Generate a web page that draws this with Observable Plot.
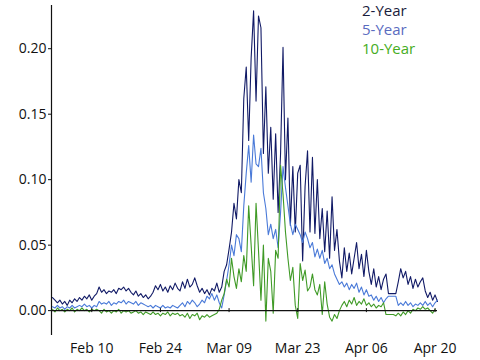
<!DOCTYPE html>
<html>
<head>
<meta charset="utf-8">
<script src="https://cdn.jsdelivr.net/npm/d3@7"></script>
<script src="https://cdn.jsdelivr.net/npm/@observablehq/plot@0.6"></script>
<style>
  html, body { margin: 0; padding: 0; background: #fff; }
  #wrap { position: relative; width: 480px; height: 360px; font-family: "Open Sans", sans-serif; }
  #legend { position: absolute; left: 362px; top: 1px; font-size: 15px; line-height: 19px; }
</style>
</head>
<body>
<div id="wrap">
  <div id="chart"></div>
  <div id="legend"></div>
</div>
<script>
// Sampling: one reading every 12 hours starting Feb 2, 2020
const startDate = "2020-02-02T00:00:00Z";
const stepHours = 12;

const seriesNames = ["2-Year", "5-Year", "10-Year"];
const seriesColors = ["#111a66", "#4a7ad8", "#3f9a26"];
const legendColors = ["#1a1d3d", "#5a6cbf", "#46ad22"];

const twoYear = [
  0.010, 0.008, 0.006, 0.008, 0.005, 0.007, 0.004, 0.008, 0.006, 0.009, 0.007, 0.010,
  0.008, 0.011, 0.009, 0.012, 0.008, 0.011, 0.013,
  0.018, 0.014, 0.016, 0.013, 0.015, 0.014, 0.016,
  0.013, 0.017, 0.016, 0.018, 0.015, 0.017,
  0.014, 0.012, 0.015, 0.011, 0.013, 0.010, 0.012, 0.009,
  0.011, 0.014, 0.019,
  0.016, 0.020, 0.015, 0.018, 0.014, 0.019, 0.016, 0.021, 0.017,
  0.015, 0.022, 0.017, 0.024, 0.018, 0.020, 0.025,
  0.019, 0.014, 0.017, 0.013, 0.016, 0.012, 0.017, 0.015,
  0.021, 0.014, 0.018,
  0.030, 0.035, 0.047, 0.060, 0.082, 0.070, 0.100, 0.090, 0.162, 0.186,
  0.130, 0.193, 0.229, 0.160, 0.225, 0.216, 0.120, 0.171, 0.105, 0.140,
  0.085, 0.135, 0.075, 0.120, 0.201, 0.100, 0.147, 0.065, 0.110, 0.060,
  0.105, 0.111, 0.038, 0.095, 0.122, 0.060, 0.117, 0.059, 0.100, 0.055,
  0.078, 0.045, 0.076, 0.040, 0.087, 0.046,
  0.062, 0.038, 0.025, 0.048, 0.030, 0.044, 0.028, 0.040, 0.052, 0.032,
  0.043, 0.026, 0.046, 0.030, 0.020, 0.032, 0.018, 0.026, 0.016, 0.024,
  0.028, 0.013, 0.013, 0.013, 0.013, 0.022, 0.032, 0.025, 0.030, 0.020,
  0.026, 0.017, 0.024, 0.018, 0.022, 0.025, 0.015, 0.010, 0.014, 0.008,
  0.012, 0.007
];

const fiveYear = [
  0.003, 0.002, 0.004, 0.002, 0.003, 0.001, 0.003, 0.002, 0.004, 0.002, 0.003, 0.004,
  0.003, 0.005, 0.003, 0.004, 0.002, 0.004, 0.003,
  0.007, 0.005, 0.006, 0.005, 0.007, 0.004, 0.006, 0.005, 0.007, 0.006, 0.008, 0.005, 0.007,
  0.006, 0.005, 0.007, 0.004, 0.006, 0.005, 0.004, 0.003,
  0.004, 0.002, 0.004, 0.003, 0.002, 0.004, 0.002, 0.003, 0.002, 0.004, 0.003, 0.002,
  0.004, 0.006, 0.003, 0.007, 0.005, 0.008, 0.006,
  0.003, 0.005, 0.008, 0.006, 0.011, 0.009, 0.013, 0.008,
  0.012, 0.006, 0.002,
  0.012, 0.023, 0.035, 0.050, 0.042, 0.058, 0.055, 0.045, 0.080, 0.105,
  0.126, 0.098, 0.134, 0.112, 0.110, 0.124, 0.090, 0.078, 0.058, 0.066,
  0.055, 0.062, 0.048, 0.075, 0.110, 0.094, 0.080, 0.066, 0.058, 0.066,
  0.062, 0.058, 0.052, 0.060, 0.055, 0.048, 0.052, 0.041, 0.047, 0.040,
  0.046, 0.036, 0.040, 0.032, 0.035, 0.028,
  0.024, 0.020, 0.022, 0.018, 0.021, 0.016, 0.020, 0.017, 0.021, 0.014,
  0.018, 0.012, 0.016, 0.011, 0.012, 0.008, 0.011, 0.007, 0.010, 0.006,
  0.009, 0.011, 0.011, 0.011, 0.011, 0.004, 0.006, 0.004, 0.007, 0.004,
  0.006, 0.003, 0.005, 0.004, 0.006, 0.004, 0.007, 0.004, 0.006, 0.003,
  0.006, 0.008
];

const tenYear = [
  0.001, -0.001, 0.002, 0.000, 0.001, -0.001, 0.001, 0.000, 0.002, -0.001, 0.001, 0.000,
  0.002, 0.000, 0.001, -0.001, 0.001, 0.000, 0.001,
  0.000, -0.002, 0.001, -0.001, 0.000, -0.002, 0.000, -0.001, 0.001, -0.002, 0.000, -0.001, 0.000,
  -0.002, -0.001, 0.000, -0.002, -0.001, -0.003, -0.001,
  -0.002, -0.003, -0.001, -0.003, -0.002, -0.004, -0.002, -0.003, -0.001, -0.004, -0.002, -0.003,
  -0.002, -0.004, -0.003, -0.005, -0.002, -0.006, -0.003,
  -0.004, -0.002, -0.007, -0.004, -0.005, -0.003, -0.005, -0.004,
  -0.003, -0.002, 0.001,
  0.008, 0.013, 0.024, 0.018, 0.040, 0.026, 0.017, 0.032, 0.022, 0.042,
  0.030, 0.080, 0.050, 0.019, 0.082, 0.046, 0.008, 0.050, -0.008, 0.040,
  0.030, -0.002, 0.046, 0.040, 0.111, 0.089, 0.060, 0.040, 0.023, 0.033,
  0.004, -0.006, 0.036, 0.023, 0.031, 0.015, 0.018, 0.028, 0.016, 0.012,
  0.020, -0.003, 0.022, 0.005, -0.005, -0.008,
  -0.003, -0.006, 0.000, 0.004, 0.007, 0.003, 0.008, 0.005, 0.010, 0.004,
  0.007, 0.005, 0.009, 0.004, 0.006, 0.003, 0.005, 0.002, 0.004, 0.003,
  0.006, -0.003, -0.003, -0.003, -0.003, -0.004, -0.002, -0.004, -0.001, -0.003,
  0.000, -0.002, 0.001, 0.000, 0.002, 0.001, 0.003, 0.001, 0.002, 0.000,
  -0.002, 0.001
];

const xTickLabels = ["2020-02-10", "2020-02-24", "2020-03-09", "2020-03-23", "2020-04-06", "2020-04-20"];
const yTickValues = [0, 0.05, 0.10, 0.15, 0.20];
const xDomain = ["2020-02-01T19:00:00Z", "2020-04-20T12:00:00Z"];
const yDomain = [-0.019, 0.233];

const t0 = new Date(startDate).getTime();
const allSeries = [twoYear, fiveYear, tenYear];
const rows = [];
allSeries.forEach((vals, s) => {
  vals.forEach((v, i) => {
    rows.push({ series: seriesNames[s], date: new Date(t0 + i * stepHours * 3600e3), value: v });
  });
});
const xTicks = xTickLabels.map(d => new Date(d + "T00:00:00Z"));

const chart = Plot.plot({
  width: 480,
  height: 360,
  marginLeft: 51,
  marginRight: 43,
  marginTop: 5,
  marginBottom: 25,
  style: { fontFamily: "'Open Sans', sans-serif", fontSize: "14px", color: "#111", background: "white" },
  x: { type: "utc", domain: xDomain.map(d => new Date(d)) },
  y: { domain: yDomain },
  color: { domain: seriesNames, range: seriesColors },
  marks: [
    Plot.axisY({ ticks: yTickValues, tickFormat: d3.format(".2f"), tickSize: 3, tickPadding: 2, label: null, fontSize: 14 }),
    Plot.axisX({ ticks: xTicks, tickFormat: d3.utcFormat("%b %d"), tickSize: 0, tickPadding: 8, label: null, fontSize: 14 }),
    Plot.ruleX([new Date(xDomain[0])], { stroke: "#111", strokeWidth: 1.2 }),
    Plot.line(rows, { x: "date", y: "value", z: "series", stroke: "series", strokeWidth: 1.1 }),
    Plot.ruleY([0], { stroke: "#111", strokeWidth: 1.2 }),
    Plot.ruleX(xTicks, { y1: 0, y2: 0, insetTop: -2, insetBottom: -2, stroke: "#111" })
  ]
});
document.getElementById("chart").appendChild(chart);

const legend = document.getElementById("legend");
seriesNames.forEach((n, i) => {
  const d = document.createElement("div");
  d.textContent = n;
  d.style.color = legendColors[i];
  legend.appendChild(d);
});
</script>
</body>
</html>
